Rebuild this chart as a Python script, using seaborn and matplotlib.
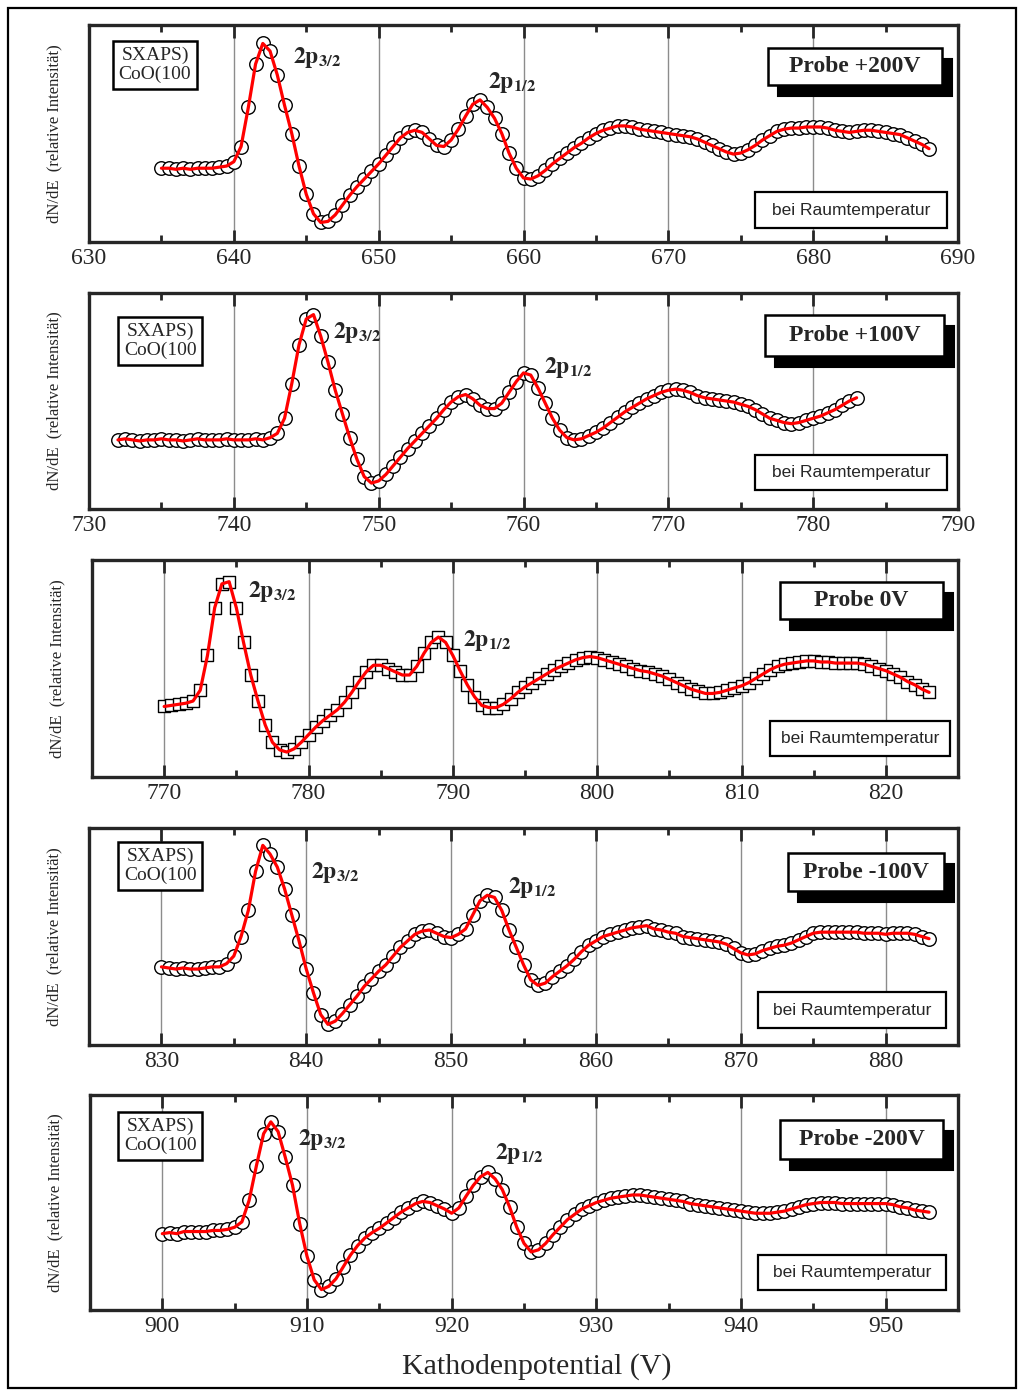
import numpy as np
import matplotlib
matplotlib.use("Agg")
import matplotlib.pyplot as plt
from matplotlib.patches import Rectangle
from matplotlib.ticker import MultipleLocator, NullLocator
import seaborn as sns

sns.set_style("white")
plt.rcParams['font.family'] = ['Liberation Serif', 'DejaVu Serif']
plt.rcParams['mathtext.fontset'] = 'stix'

# --- data (0.5 V steps, relative intensity 0..100) ---
probe_labels = ["Probe +200V", "Probe +100V", "Probe 0V", "Probe -100V", "Probe -200V"]
x_ranges = [(630, 690), (730, 790), (765, 825), (825, 885), (895, 955)]
e_start = [635.0, 732.0, 770.0, 830.0, 900.0]
e_step = 0.5

dnde_p200 = [34, 34, 33.5, 34, 33.5, 34, 34, 34, 34.5, 35,
             37, 44, 62, 82, 91.5, 88, 77, 63, 50, 35,
             22, 13, 9, 9.5, 12.5, 17, 21.5, 25.5, 29, 32.5,
             36, 40, 44, 48, 50.5, 51.5, 50.5, 47.5, 44.5, 44,
             47, 52, 58, 63.5, 65.5, 62, 57, 50, 41, 34,
             29.5, 29, 30.5, 33, 36, 38.5, 41, 43.5, 45.5, 48,
             50, 51.5, 52.5, 53.5, 53.5, 53, 52, 51.5, 51, 50.5,
             50, 49.5, 49, 48.5, 47.5, 46, 44.5, 43, 41.5, 40.5,
             41, 42.5, 44.5, 47, 49, 51, 52, 52.5, 52.5, 53,
             53, 53, 52.5, 51.5, 51, 50.5, 51, 51.5, 51.5, 51,
             50.5, 50, 49.5, 48, 46.5, 45, 43]
dnde_p100 = [32, 32.5, 32, 31.5, 32, 32, 32.5, 32, 32, 31.5,
             32, 32.5, 32, 32, 32, 32.5, 32, 32, 32, 32.5, 32,
             33, 35, 42, 58, 76, 88, 90, 80, 68, 55,
             44, 33, 23, 15, 12, 13, 16, 20, 24, 28,
             31.5, 35, 38.5, 42, 46, 49.5, 52, 53, 51, 48,
             46.5, 46.5, 49, 54, 59, 63, 62, 56, 49, 42,
             36.5, 33, 32, 32.5, 34, 35.5, 37.5, 40, 42.5, 45,
             47, 49, 51, 52.5, 54, 55, 55.5, 55, 54, 52.5,
             51.5, 51, 50.5, 50, 49.5, 48.5, 47.5, 46, 44, 42,
             41, 40, 39.5, 40, 41, 42, 43, 44.5, 46, 48,
             50, 51.5]
dnde_0 = [32.5, 33, 33.5, 34, 35, 40, 56, 78, 89, 90,
          78, 62, 47, 35, 24, 16, 12.5, 11.5, 13, 16,
          19.5, 23, 26, 28.5, 31, 34.5, 39, 44, 48.5, 51.5,
          51.5, 50, 48.5, 47, 47, 51, 57, 62, 64.5, 62,
          56, 49, 42.5, 37, 33, 32, 32, 33.5, 36, 39,
          41.5, 43.5, 45.5, 47.5, 49.5, 51, 52.5, 54, 55, 55.5,
          55, 54, 53, 52, 51, 50, 49, 48.5, 47.5, 46.5,
          45, 43.5, 42, 40.5, 39.5, 38.5, 38.5, 39, 40, 41,
          42, 43.5, 45.5, 47.5, 49.5, 51, 52, 52.5, 53, 53.5,
          53.5, 53, 53, 52.5, 52.5, 52.5, 52.5, 52, 51, 50,
          49, 47.5, 46, 44, 42.5, 40.5, 39]
dnde_m100 = [36, 35.5, 35, 35.5, 35, 35, 35.5, 36, 36, 37.5,
             41, 50, 62, 80, 92, 88, 82, 72, 60, 48,
             35, 24, 14, 9.5, 11, 14.5, 18.5, 22.5, 27, 30.5,
             34, 37, 41, 45, 48, 51, 52.5, 53, 51.5, 50,
             49.5, 51, 53.5, 60, 66.5, 69, 68, 62, 53, 45,
             37, 30, 27.5, 28.5, 31.5, 34, 36.5, 39.5, 43, 46,
             48, 50, 51, 52, 53, 54, 54.5, 55, 53.5, 53,
             52, 51.5, 50, 49.5, 49, 48.5, 48, 47.5, 46.5, 44.5,
             42.5, 41.5, 42, 43.5, 44.5, 45.5, 46, 47, 48.5, 50,
             51.5, 52, 52, 52, 52, 52, 52, 51.5, 51.5, 51.5,
             51, 51.5, 51.5, 51.5, 51, 50, 49]
dnde_m200 = [35.5, 36, 35.5, 36.5, 36.5, 36.5, 36.5, 37, 37, 37.5,
             38.5, 41, 51, 67, 82, 87.5, 83, 71, 58, 40,
             25, 14, 9.5, 11, 14.5, 20, 25.5, 30, 33.5, 36,
             38, 40.5, 43, 45.5, 47.5, 49.5, 50.5, 50, 48.5, 47,
             45, 47.5, 53, 58, 62, 64, 61, 56, 48, 38.5,
             31, 27, 28, 31, 35, 38.5, 42, 44.5, 47, 48.5,
             50, 51, 52, 52.5, 53, 53.5, 53.5, 53, 52.5, 52,
             51.5, 51, 50.5, 49.5, 49, 48.5, 48, 47.5, 47, 46.5,
             46, 45.5, 45, 45, 45, 45.5, 46, 47, 48, 49,
             49.5, 50, 50, 50, 49.5, 49.5, 49.5, 49.5, 49.5, 49.5,
             49.5, 49, 48, 47.5, 46.5, 46, 45.5]
series = [dnde_p200, dnde_p100, dnde_0, dnde_m100, dnde_m200]
markers = ['o', 'o', 's', 'o', 'o']
show_sample = [True, True, False, True, True]

# --- layout (pixel boxes) ---
W, H = 1024, 1395
panel_px = [(89, 958, 25, 242), (89, 958, 293, 509), (92, 958, 560, 777),
            (89, 958, 828, 1045), (90, 958, 1095, 1310)]
p32_pos = [(0.235, 0.848), (0.281, 0.815), (0.180, 0.853), (0.255, 0.797), (0.240, 0.791)]
p12_pos = [(0.459, 0.733), (0.524, 0.657), (0.428, 0.631), (0.482, 0.724), (0.467, 0.730)]
sample_pos = [(0.076, 0.816), (0.082, 0.778), None, (0.082, 0.825), (0.081, 0.81)]
# probe box: (left, right, top, bottom) in figure pixels
probe_box = [(768, 942, 48, 85), (765, 944, 315, 356), (780, 943, 582, 619),
             (788, 944, 853, 891), (780, 943, 1120, 1159)]
room_box = [(755, 947, 192, 228), (755, 947, 455, 490), (770, 950, 721, 756),
            (758, 946, 992, 1028), (758, 946, 1255, 1290)]


def box_in_axes(ax_px, bx):
    l, r, t, b = ax_px
    x0 = (bx[0] - l) / (r - l)
    x1 = (bx[1] - l) / (r - l)
    y0 = (b - bx[3]) / (b - t)
    y1 = (b - bx[2]) / (b - t)
    return x0, y0, x1 - x0, y1 - y0


fig = plt.figure(figsize=(W / 100, H / 100), dpi=100)
fig.add_artist(Rectangle((8 / W, 1 - 1388 / H), 1008 / W, 1380 / H,
                         transform=fig.transFigure, fill=False, lw=1.6, color='black'))

for i in range(5):
    l, r, t, b = panel_px[i]
    ax = fig.add_axes([l / W, 1 - b / H, (r - l) / W, (b - t) / H])
    y = np.array(series[i], dtype=float)
    x = e_start[i] + e_step * np.arange(len(y))

    ms = 95 if markers[i] == 'o' else 80
    sns.scatterplot(x=x, y=y, ax=ax, marker=markers[i], s=ms, color='white',
                    edgecolor='black', linewidth=1.0, zorder=2, legend=False)
    sns.lineplot(x=x, y=y, ax=ax, color='#ff0000', lw=2.3, zorder=3)

    ax.set_xlim(*x_ranges[i])
    ax.set_ylim(0, 100)
    ax.xaxis.set_major_locator(MultipleLocator(10))
    ax.xaxis.set_minor_locator(MultipleLocator(5))
    ax.yaxis.set_major_locator(NullLocator())
    ax.grid(axis='x', which='major', color='#8c8c8c', lw=1.0, zorder=0)
    ax.set_axisbelow(True)
    ax.tick_params(axis='x', which='both', direction='in', top=True, bottom=True,
                   width=2, labelsize=17, pad=4)
    ax.tick_params(axis='x', which='major', length=9)
    ax.tick_params(axis='x', which='minor', length=5)
    for s in ax.spines.values():
        s.set_linewidth(2.4)
    ax.set_xlabel('')
    ax.set_ylabel('dN/dE  (relative Intensität)', fontsize=12)
    ax.yaxis.set_label_coords(-0.031, 0.5)

    ax.text(*p32_pos[i], r'$\mathbf{2p}_{\mathbf{3/2}}$', transform=ax.transAxes,
            fontsize=17, ha='left', va='center', zorder=5)
    ax.text(*p12_pos[i], r'$\mathbf{2p}_{\mathbf{1/2}}$', transform=ax.transAxes,
            fontsize=17, ha='left', va='center', zorder=5)

    if show_sample[i]:
        ax.text(*sample_pos[i], 'SXAPS)\nCoO(100', transform=ax.transAxes,
                fontsize=14, ha='center', va='center', linespacing=1.1, zorder=6,
                bbox=dict(boxstyle='square,pad=0.3', fc='white', ec='black', lw=1.8))

    # probe label with drop shadow
    bx, by, bw, bh = box_in_axes(panel_px[i], probe_box[i])
    dx, dy = 10 / (r - l), 11 / (b - t)
    ax.add_patch(Rectangle((bx + dx, by - dy), bw, bh, transform=ax.transAxes,
                           fc='black', ec='black', lw=1.5, zorder=6, clip_on=False))
    ax.add_patch(Rectangle((bx, by), bw, bh, transform=ax.transAxes,
                           fc='white', ec='black', lw=1.8, zorder=7, clip_on=False))
    ax.text(bx + bw / 2, by + bh / 2, probe_labels[i], transform=ax.transAxes,
            fontsize=17, fontweight='bold', ha='center', va='center', zorder=8)

    rx, ry, rw, rh = box_in_axes(panel_px[i], room_box[i])
    ax.add_patch(Rectangle((rx, ry), rw, rh, transform=ax.transAxes,
                           fc='white', ec='black', lw=1.6, zorder=6, clip_on=False))
    ax.text(rx + rw / 2, ry + rh / 2, 'bei Raumtemperatur', transform=ax.transAxes,
            fontsize=12.5, ha='center', va='center', family=['Liberation Sans', 'DejaVu Sans'],
            zorder=7)

fig.text(537 / W, 1 - 1367 / H, 'Kathodenpotential (V)', fontsize=21.5, ha='center', va='center')

fig.savefig('out.png', dpi=100)
